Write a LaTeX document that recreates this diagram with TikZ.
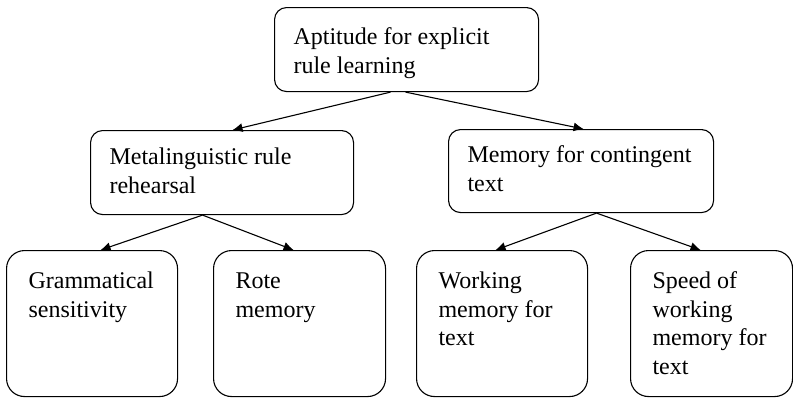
\documentclass[tikz,border=0pt]{standalone}
\usepackage{fontspec}
\setmainfont{Liberation Serif}
\usetikzlibrary{arrows.meta}

\tikzset{
  factor/.style={draw, line width=0.55pt, rounded corners=6pt, anchor=north west,
    inner xsep=9.5pt, inner ysep=0pt, align=flush left,
    execute at begin node={\hyphenpenalty=10000},
    font=\fontsize{12}{14.3}\selectfont},
  subfactor/.style={factor, rounded corners=9pt, inner xsep=11pt,
    text height=19pt, text depth=54pt},
  link/.style={line width=0.55pt, -{Latex[length=5pt,width=4.5pt]}},
}

\begin{document}
\begin{tikzpicture}[x=0.5pt, y=-0.5pt]
  \useasboundingbox (0,0) rectangle (793,397);

  \node[factor, text width=113pt, text height=18.5pt, text depth=23.5pt] (aptitude) at (274,7) {Aptitude for explicit\\rule learning};
  \node[factor, text width=112.5pt, text height=17pt, text depth=25pt] (rehearsal) at (90,130) {Metalinguistic rule\\rehearsal};
  \node[factor, text width=113.5pt, text height=16.5pt, text depth=25pt] (contingent) at (448,129) {\mbox{Memory for contingent}\\text};

  \node[subfactor, text width=63.5pt] (grammar) at (6,250) {Grammatical\\sensitivity};
  \node[subfactor, text width=64pt] (rote) at (213,250) {Rote\\memory};
  \node[subfactor, text width=63.5pt] (working) at (416,250) {Working\\memory for\\text};
  \node[subfactor, text width=59pt] (speed) at (630,250) {Speed of\\working\\memory for\\text};

  \draw[link] ([xshift=-8pt]aptitude.south) -- ([xshift=5.25pt]rehearsal.north);
  \draw[link] ([xshift=-0.5pt]aptitude.south) -- ([xshift=1.25pt]contingent.north);
  \draw[link] ([xshift=-9.75pt]rehearsal.south) -- ([xshift=4.25pt]grammar.north);
  \draw[link] ([xshift=-9.75pt]rehearsal.south) -- ([xshift=-3pt]rote.north);
  \draw[link] ([xshift=7.75pt]contingent.south) -- ([xshift=-3.25pt]working.north);
  \draw[link] ([xshift=7.75pt]contingent.south) -- ([xshift=-5.5pt]speed.north);
\end{tikzpicture}
\end{document}
